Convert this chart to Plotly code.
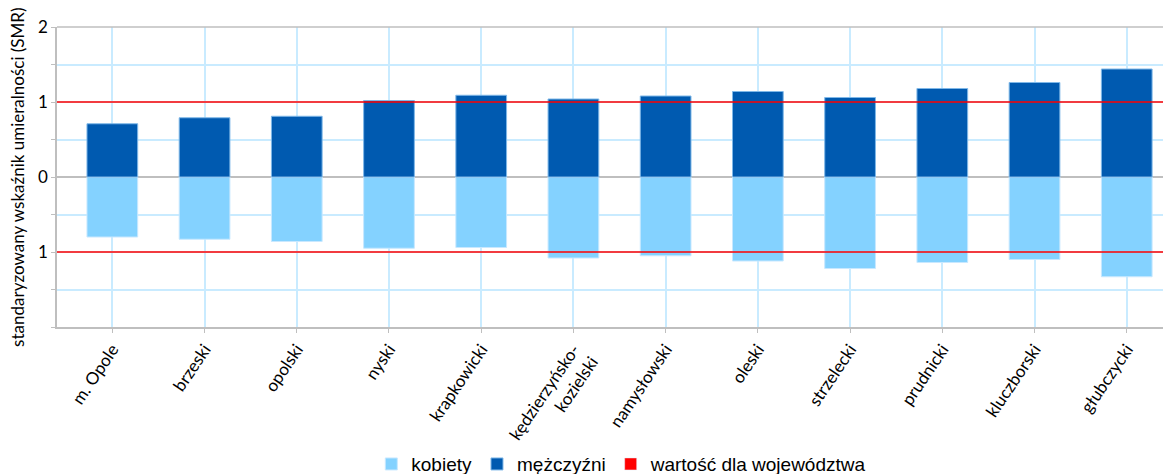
import plotly.graph_objects as go

categories = ["m. Opole", "brzeski", "opolski", "nyski", "krapkowicki",
              "kędzierzyńsko-<br>kozielski", "namysłowski", "oleski", "strzelecki",
              "prudnicki", "kluczborski", "głubczycki"]
men = [0.71, 0.79, 0.81, 1.02, 1.09, 1.04, 1.08, 1.14, 1.06, 1.18, 1.26, 1.44]
women = [0.80, 0.83, 0.86, 0.95, 0.94, 1.08, 1.05, 1.12, 1.22, 1.14, 1.10, 1.33]
region_value = 1.0
y_tickvals = [-2, -1.5, -1, -0.5, 0, 0.5, 1, 1.5, 2]
y_ticktext = ["", "", "1", "", "0", "", "1", "", "2"]
y_title = "standaryzowany wskaźnik umieralności (SMR)"

x = list(range(len(categories)))
fig = go.Figure()
fig.add_trace(go.Bar(x=x, y=[-v for v in women], name="kobiety",
                     marker=dict(color="#84D2FF", line=dict(color="#C8E8FF", width=1)),
                     width=0.55))
fig.add_trace(go.Bar(x=x, y=men, name="mężczyźni",
                     marker=dict(color="#005AB0", line=dict(color="#7FB8E8", width=1)),
                     width=0.55))
fig.add_trace(go.Bar(x=[None], y=[None], name="wartość dla województwa",
                     marker=dict(color="#FF0000")))

for v in (region_value, -region_value):
    fig.add_shape(type="line", xref="paper", x0=0, x1=1, yref="y", y0=v, y1=v,
                  line=dict(color="#FF0000", width=1.5), layer="above")

fig.update_layout(
    width=1163, height=466,
    margin=dict(l=49, r=0, t=19, b=147, autoexpand=False),
    barmode="relative",
    plot_bgcolor="white", paper_bgcolor="white",
    font=dict(family="Lato, Open Sans, sans-serif", color="#000000"),
    showlegend=True,
    legend=dict(orientation="h", x=0.507, xanchor="center", y=-0.457, yanchor="middle",
                font=dict(family="Liberation Sans, Arial, sans-serif", size=19),
                itemwidth=30, tracegroupgap=0),
    xaxis=dict(range=[-0.6, 11.48], tickmode="array", tickvals=x, ticktext=categories,
               tickangle=-56, tickfont=dict(size=17), automargin=False,
               showgrid=True, gridcolor="#C9EBFF", gridwidth=1.5,
               showline=True, linecolor="#BFBFBF", linewidth=1.5,
               ticks="outside", ticklen=4, tickcolor="#BFBFBF", zeroline=False),
    yaxis=dict(range=[-2, 2], tickmode="array", tickvals=y_tickvals, ticktext=y_ticktext,
               tickfont=dict(size=17), automargin=False,
               ticks="outside", ticklen=4, tickcolor="#BFBFBF",
               showgrid=True, gridcolor="#C9EBFF", gridwidth=1.5,
               zeroline=True, zerolinecolor="#BFBFBF", zerolinewidth=1.5,
               showline=True, linecolor="#BFBFBF", linewidth=1.5),
)
fig.add_annotation(text=y_title, xref="paper", yref="paper", x=-0.036, y=0.5,
                   xanchor="center", yanchor="middle", textangle=-90, showarrow=False,
                   font=dict(size=17))
fig.add_shape(type="line", xref="paper", x0=0, x1=1, yref="paper", y0=1, y1=1,
              line=dict(color="#BFBFBF", width=1.5), layer="above")

fig.write_html("out.html")
